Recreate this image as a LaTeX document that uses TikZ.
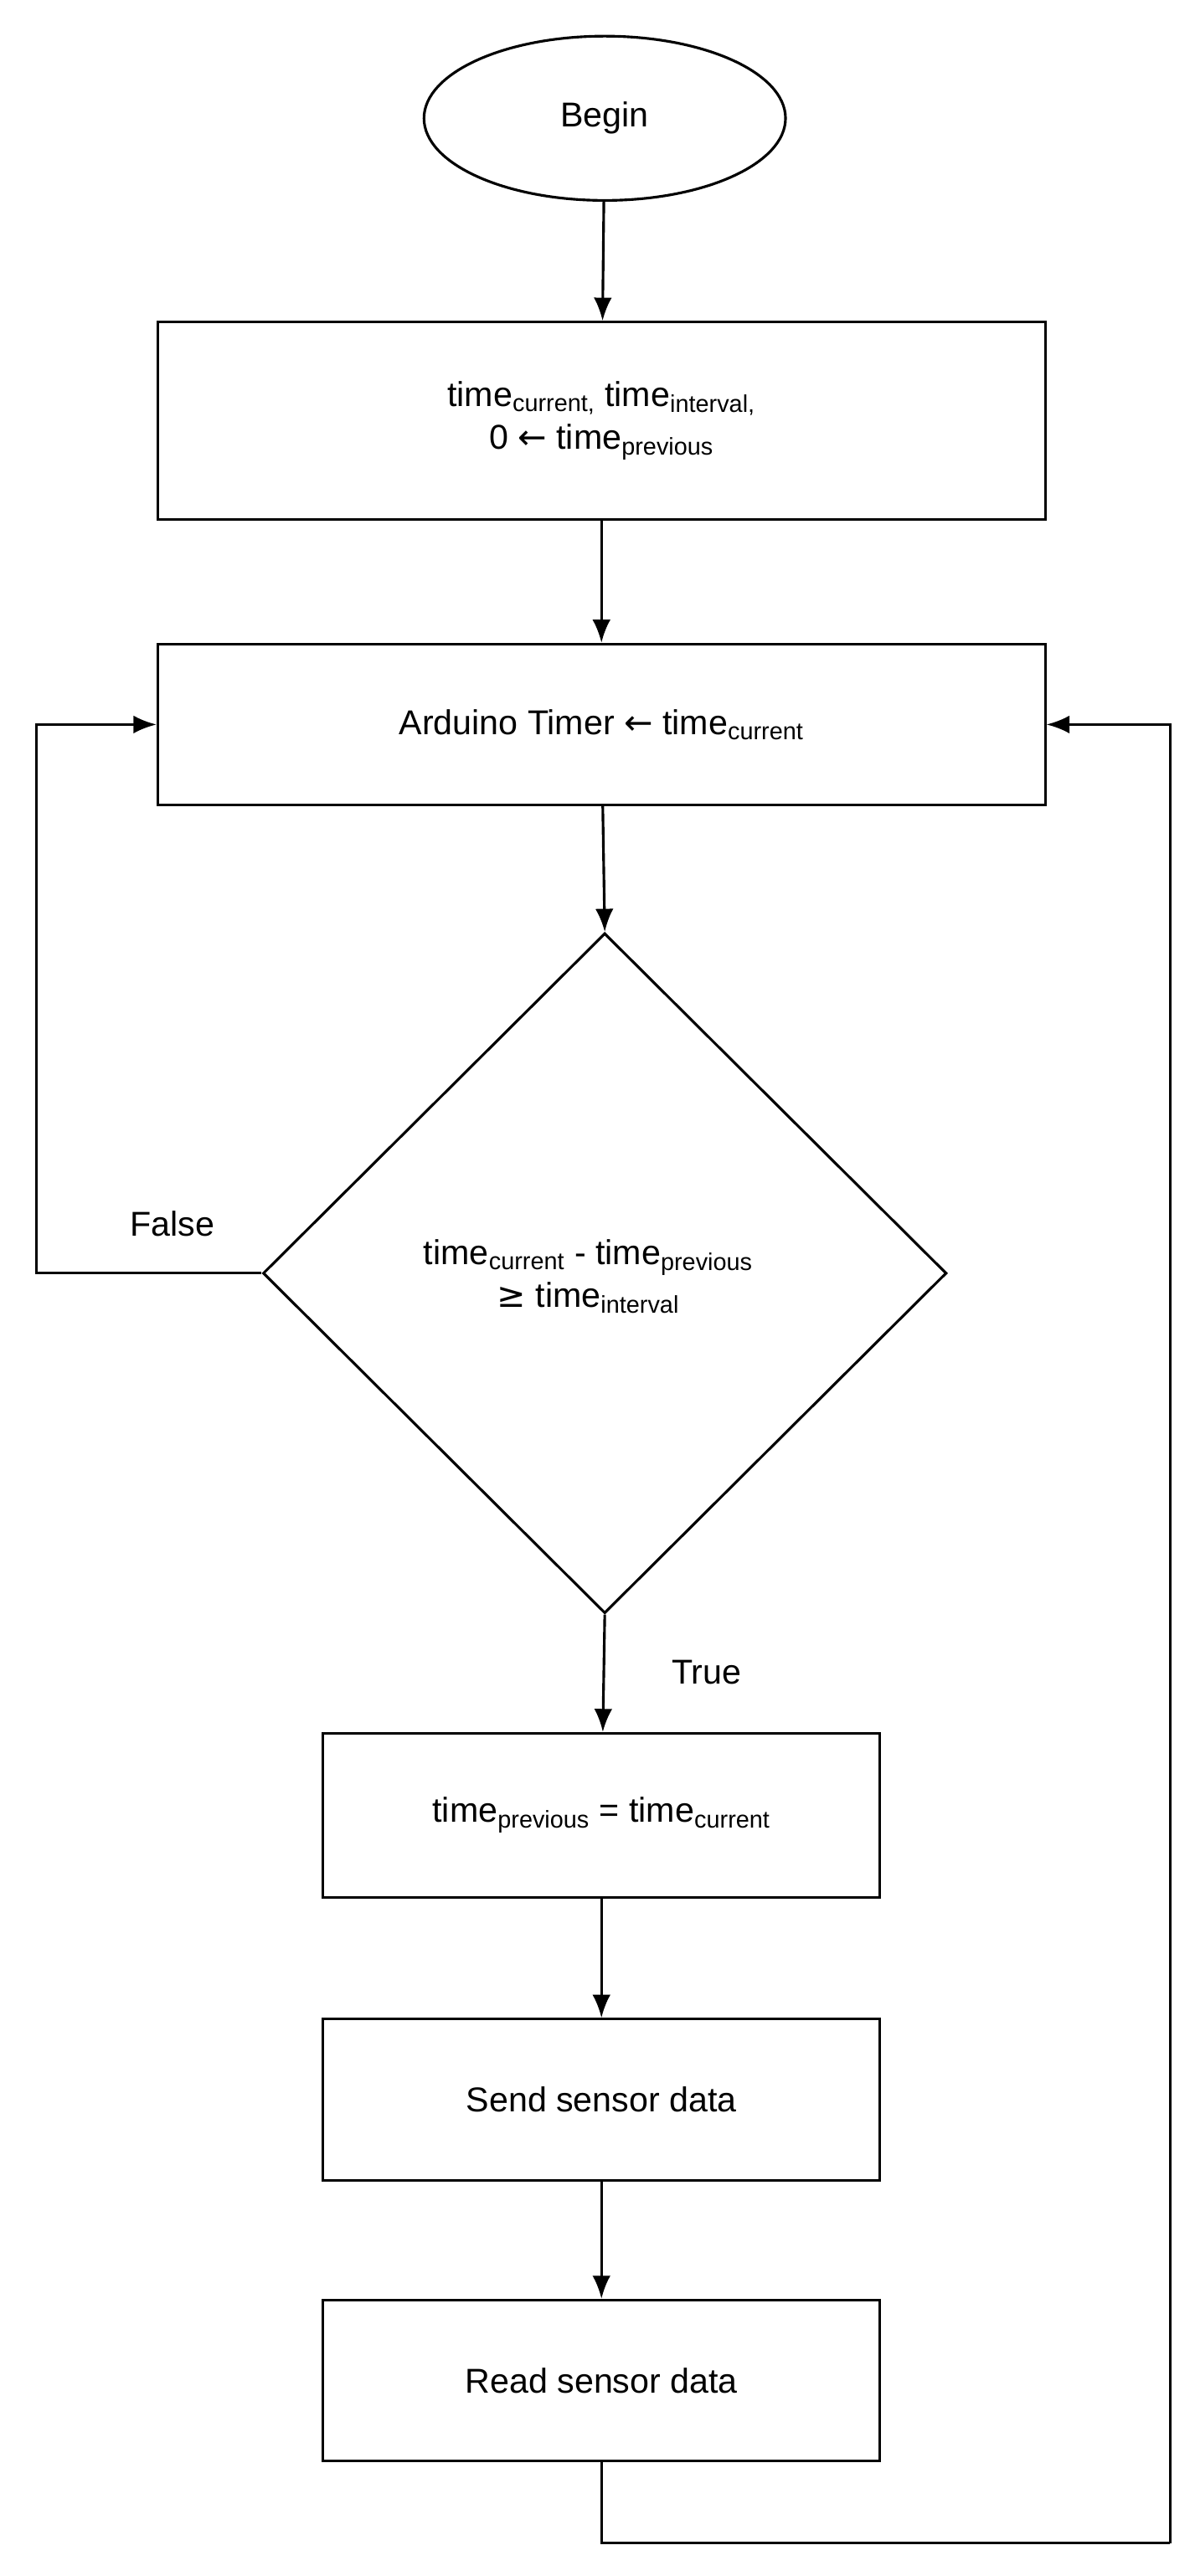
\documentclass[tikz,border=0pt]{standalone}
\usepackage{fontspec}
\setmainfont{Liberation Sans}
\newfontfamily\symf{DejaVu Sans}
\usetikzlibrary{shapes.geometric,arrows.meta}
\newcommand{\ts}[1]{time\textsubscript{#1}}
\begin{document}
\begin{tikzpicture}[x=1pt,y=-1pt,
  every node/.style={font=\fontsize{21}{26}\selectfont},
  box/.style={draw,line width=1.6pt,minimum width=#1,inner sep=0pt,align=center},
  ar/.style={line width=1.6pt,-{Latex[length=14pt,width=11pt]}},
  ln/.style={line width=1.6pt}]
\useasboundingbox (0,0) rectangle (727,1568);
\node[draw,ellipse,line width=1.6pt,minimum width=220pt,minimum height=100pt] (begin) at (368,72) {Begin};
\node[box=540pt,minimum height=120pt] (init) at (366,256) {\ts{current,} \ts{interval,}\\0 {\symf ←} \ts{previous}};
\node[box=540pt,minimum height=98pt] (timer) at (366,441) {Arduino Timer {\symf ←} \ts{current}};
\node[draw,diamond,line width=1.6pt,minimum width=416pt,minimum height=414pt,inner sep=0pt,align=center,aspect=1] (dec) at (368,775) {};
\node[align=center] at (358,777) {\ts{current} - \ts{previous}\\{\symf ≥} \ts{interval}};
\node[box=339pt,minimum height=100pt] (upd) at (366,1105) {\ts{previous} = \ts{current}};
\node[box=339pt,minimum height=98pt] (send) at (366,1278) {Send sensor data};
\node[box=339pt,minimum height=98pt] (read) at (366,1449) {Read sensor data};
\coordinate (fl) at (22,775);
\coordinate (rb) at (368,1548);
\coordinate (rr) at (712,1548);
\draw[ar] (begin) -- (init);
\draw[ar] (init) -- (timer);
\draw[ar] (timer) -- (dec.north);
\draw[ar] (dec.south) -- (upd);
\draw[ar] (upd) -- (send);
\draw[ar] (send) -- (read);
\draw[ar] (dec.west) -- (fl) |- (timer.west);
\draw[ln] (read.south) -- (read.south |- rb) -- (rr);
\draw[ar] (rr) |- (timer.east);
\node at (105,745) {False};
\node at (430,1018) {True};
\end{tikzpicture}
\end{document}
